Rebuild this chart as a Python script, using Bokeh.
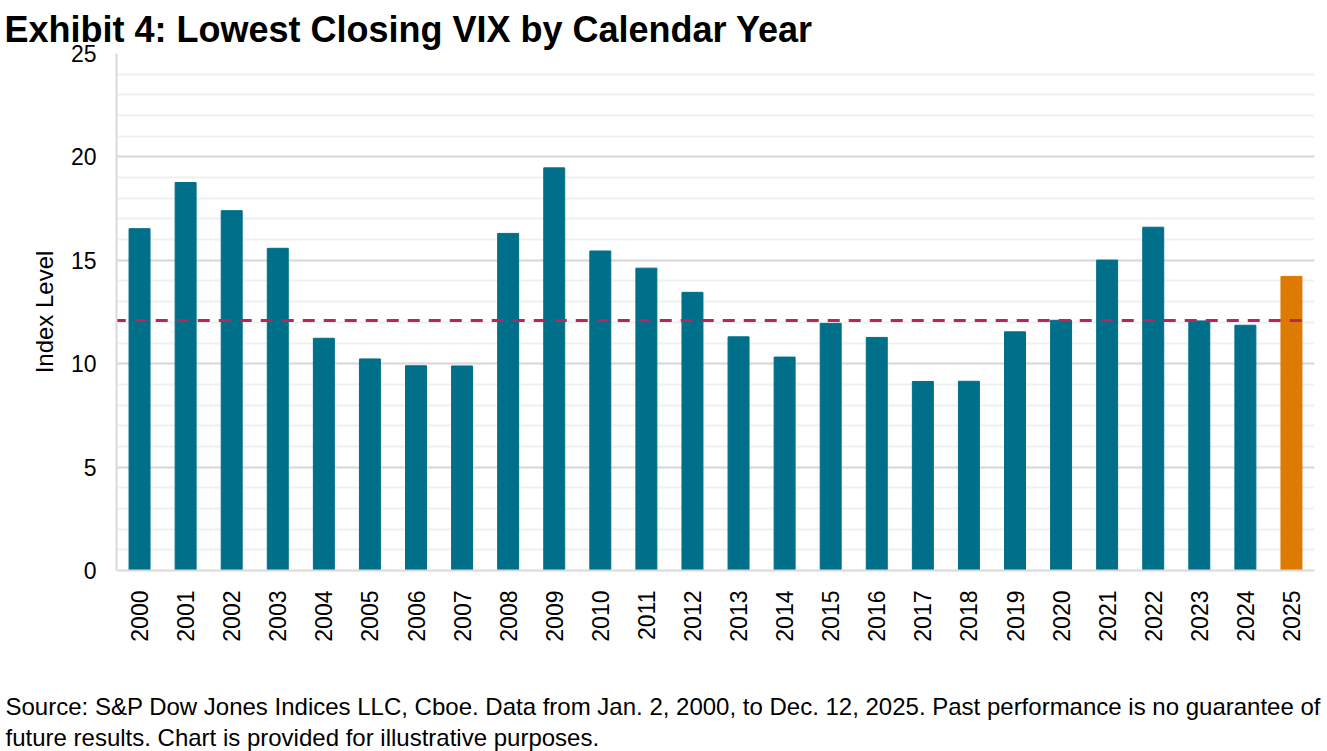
import math
import numpy as np
from bokeh.plotting import figure
from bokeh.models import FactorRange, Range1d, SingleIntervalTicker, Title, ColumnDataSource
from bokeh.embed import file_html
from bokeh.resources import INLINE

# ---- data ----
YEARS = [str(y) for y in range(2000, 2026)]
LOWEST_VIX = [16.53, 18.76, 17.40, 15.58, 11.23, 10.23, 9.90, 9.89, 16.30, 19.47,
              15.45, 14.62, 13.45, 11.30, 10.32, 11.95, 11.27, 9.14, 9.15, 11.54,
              12.10, 15.01, 16.60, 12.07, 11.86, 14.22]
HIGHLIGHT_YEAR = "2025"
Y_TICK_STEP = 5
TITLE = "Exhibit 4: Lowest Closing VIX by Calendar Year"
FOOTNOTE_1 = ("Source: S&P Dow Jones Indices LLC, Cboe. Data from Jan. 2, 2000, to Dec. 12, 2025. "
              "Past performance is no guarantee of")
FOOTNOTE_2 = "future results. Chart is provided for illustrative purposes."

TEAL = "#006F89"
ORANGE = "#DD7A00"
CRIMSON = "#B8255A"
FONT = "Liberation Sans"

median_level = float(np.median(LOWEST_VIX))
colors = [ORANGE if y == HIGHLIGHT_YEAR else TEAL for y in YEARS]
src = ColumnDataSource(dict(year=YEARS, vix=LOWEST_VIX, color=colors))

W, H = 1324, 751
FL, FR, FT, FB = 116, 1314, 53, 570   # frame edges on the canvas
p = figure(
    x_range=FactorRange(factors=YEARS, range_padding=0),
    y_range=Range1d(0, 25),
    width=W, height=H,
    output_backend="svg", toolbar_location=None,
    min_border_left=FL, min_border_right=W - FR, min_border_top=FT, min_border_bottom=H - FB,
)
p.outline_line_color = None
p.background_fill_color = "white"
p.border_fill_color = "white"

# grid
p.xgrid.grid_line_color = None
p.yaxis.ticker = SingleIntervalTicker(interval=Y_TICK_STEP, num_minor_ticks=5)
p.ygrid.grid_line_color = "#d9d9d9"
p.ygrid.grid_line_width = 2
p.ygrid.minor_grid_line_color = "#f0f0f0"
p.ygrid.minor_grid_line_width = 2

# bars
p.vbar(x="year", top="vix", width=0.455, color="color", source=src)

# median reference line
n = len(YEARS)
p.segment(x0=[-0.06], x1=[n - 0.25], y0=[median_level], y1=[median_level],
          line_color=CRIMSON, line_width=3, line_dash="12 9")

# axes
for ax in (p.xaxis[0], p.yaxis[0]):
    ax.axis_line_color = "#d9d9d9"
    ax.axis_line_width = 2
    ax.major_tick_line_color = None
    ax.minor_tick_line_color = None
    ax.major_label_text_font = FONT
    ax.major_label_text_font_size = "23px"
    ax.major_label_text_color = "#000000"

p.yaxis.major_label_standoff = 14
p.yaxis.axis_label = "Index Level"
p.yaxis.axis_label_text_font = FONT
p.yaxis.axis_label_text_font_size = "24px"
p.yaxis.axis_label_text_font_style = "normal"
p.yaxis.axis_label_text_color = "#000000"
p.yaxis.axis_label_standoff = 10

p.xaxis.major_label_orientation = math.pi / 2
p.xaxis.major_label_standoff = 14

# title
p.title.text = TITLE
p.title.text_font = FONT
p.title.text_font_size = "36px"
p.title.text_font_style = "bold"
p.title.text_color = "#000000"
p.title.align = "left"
p.title.offset = -112
p.title.standoff = 8

# footnotes below the axis
spacer = Title(text=" ", text_font=FONT, text_font_size="39px", standoff=0)
p.add_layout(spacer, "below")
for txt in (FOOTNOTE_1, FOOTNOTE_2):
    t = Title(text=txt, align="left", offset=-111, text_font=FONT,
              text_font_size="24px", text_font_style="normal", text_color="#000000",
              standoff=2)
    p.add_layout(t, "below")

open("out.html", "w").write(file_html(p, INLINE))
